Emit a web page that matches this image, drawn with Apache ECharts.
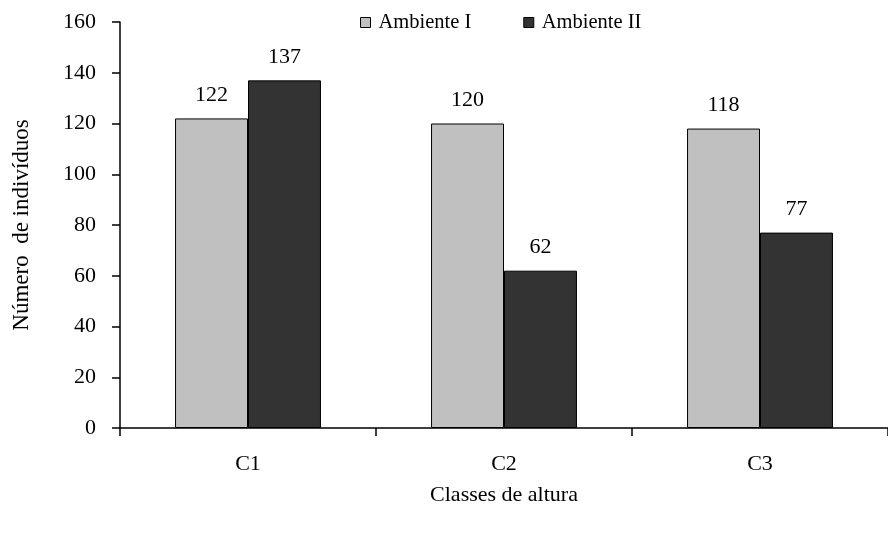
<!DOCTYPE html>
<html><head><meta charset="utf-8">
<script src="https://cdn.jsdelivr.net/npm/echarts@6/dist/echarts.min.js"></script>
<style>html,body{margin:0;padding:0;background:#fff}#c{width:888px;height:533px}</style>
</head><body><div id="c"></div>
<script>
const categories = ['C1', 'C2', 'C3'];
const ambienteI = [122, 120, 118];
const ambienteII = [137, 62, 77];
const yTicks = [0, 20, 40, 60, 80, 100, 120, 140, 160];

const font = 'Liberation Serif, Times New Roman, serif';
const chart = echarts.init(document.getElementById('c'));
chart.setOption({
  animation: false,
  textStyle: { fontFamily: font },
  legend: {
    top: 7, left: 355,
    icon: 'rect',
    itemWidth: 10, itemHeight: 10, itemGap: 52,
    textStyle: { fontFamily: font, fontSize: 20.5, color: '#000', padding: [0, 0, 0, 3] },
    data: [
      { name: 'Ambiente I', itemStyle: { color: '#c0c0c0', borderColor: '#000', borderWidth: 1 } },
      { name: 'Ambiente II', itemStyle: { color: '#333333', borderColor: '#000', borderWidth: 1 } }
    ]
  },
  grid: { left: 120, top: 22, width: 774, height: 406 },
  xAxis: {
    type: 'category', data: categories,
    name: 'Classes de altura', nameLocation: 'middle', nameGap: 56,
    nameTextStyle: { fontFamily: font, fontSize: 22, color: '#000' },
    axisLine: { lineStyle: { color: '#000', width: 1.5 } },
    axisTick: { show: true, length: 8, lineStyle: { color: '#000', width: 1.5 } },
    axisLabel: { fontFamily: font, fontSize: 22, color: '#000', margin: 25 }
  },
  yAxis: {
    type: 'value', min: yTicks[0], max: yTicks[yTicks.length - 1], interval: 20,
    name: 'Número  de indivíduos', nameLocation: 'middle', nameGap: 87,
    nameTextStyle: { fontFamily: font, fontSize: 23, color: '#000' },
    splitLine: { show: false },
    axisLine: { show: true, lineStyle: { color: '#000', width: 1.5 } },
    axisTick: { show: true, length: 8, lineStyle: { color: '#000', width: 1.5 } },
    axisLabel: { fontFamily: font, fontSize: 22, color: '#000', margin: 24 }
  },
  series: [
    {
      name: 'Ambiente I', type: 'bar', data: ambienteI,
      barGap: '0%', barCategoryGap: '43%',
      itemStyle: { color: '#c0c0c0', borderColor: '#000', borderWidth: 1 },
      label: { show: true, position: 'top', distance: 12, fontFamily: font, fontSize: 22, color: '#000' }
    },
    {
      name: 'Ambiente II', type: 'bar', data: ambienteII,
      barGap: '0%', barCategoryGap: '43%',
      itemStyle: { color: '#333333', borderColor: '#000', borderWidth: 1 },
      label: { show: true, position: 'top', distance: 12, fontFamily: font, fontSize: 22, color: '#000' }
    }
  ]
});
</script></body></html>
